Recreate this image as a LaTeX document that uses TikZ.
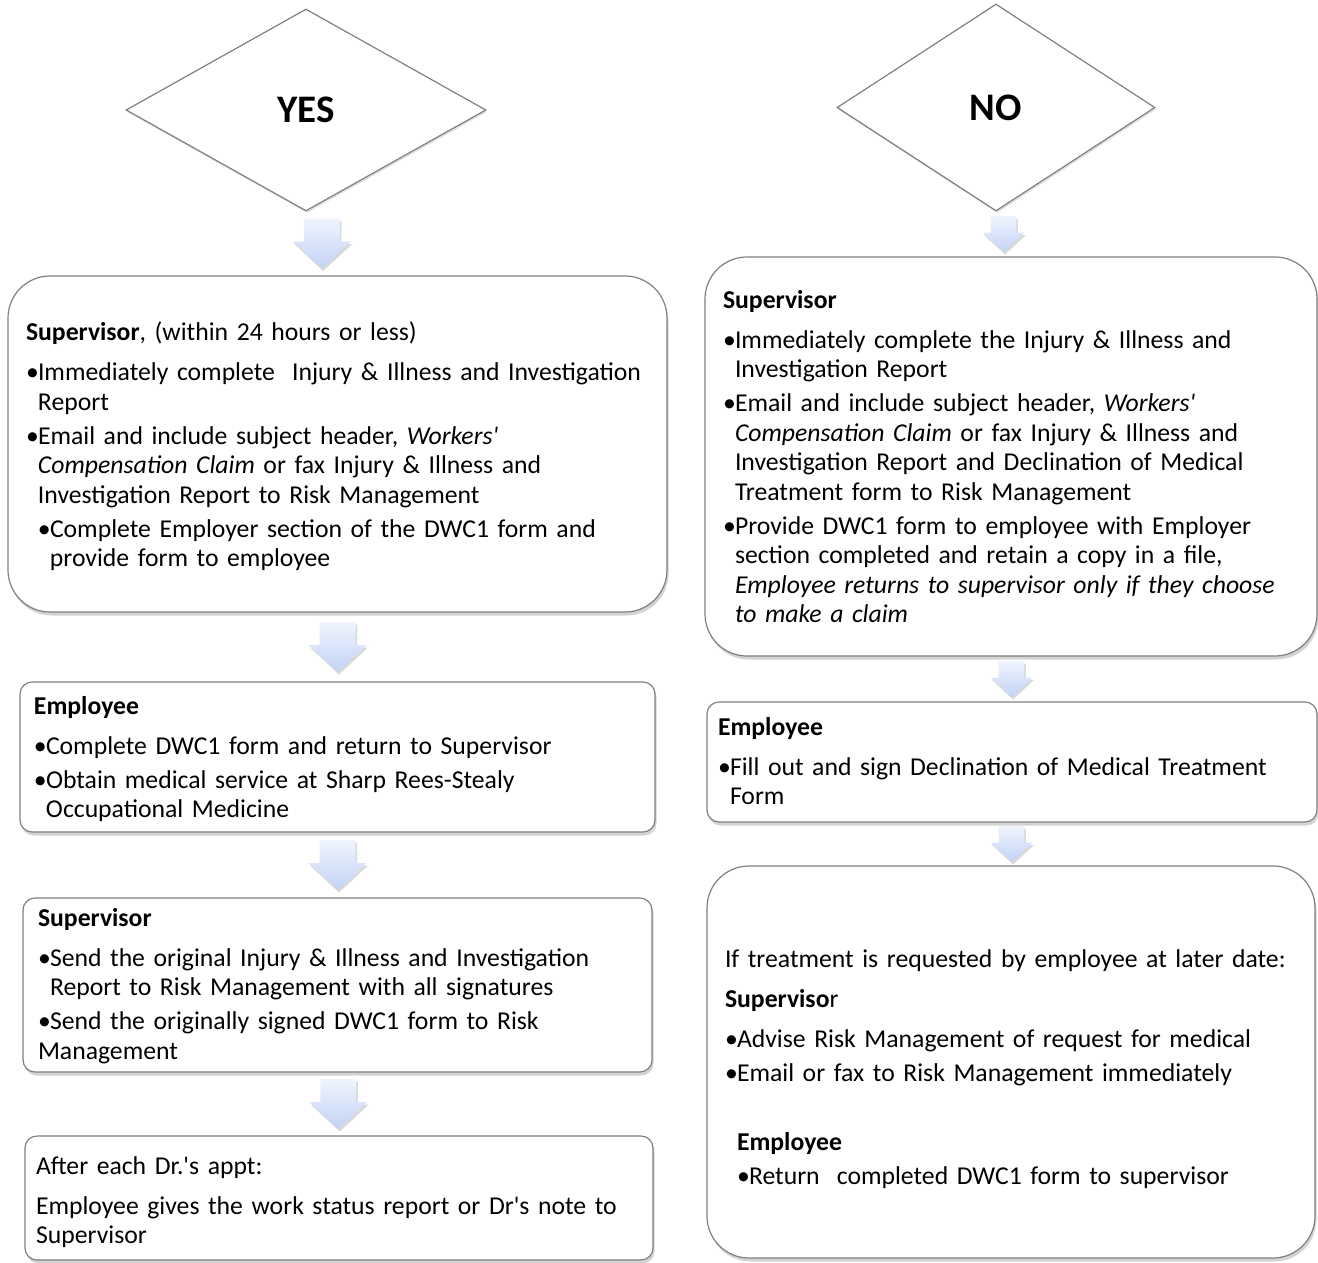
\documentclass[tikz,border=0pt]{standalone}
\usepackage{fontspec}
\setmainfont{Carlito}
\usepackage{xcolor}
\usetikzlibrary{shapes.geometric,shadows,calc}

\definecolor{edgegray}{RGB}{128,128,128}
\definecolor{arrtop}{RGB}{240,244,253}
\definecolor{arrbot}{RGB}{194,211,246}

% bullet paragraph with hanging indent (optional extra left indent)
\newcommand{\itm}[1][0pt]{\par\noindent\leftskip=#1\relax\hangindent=12pt\hangafter=1\makebox[12pt][l]{\textbullet}}
% heading line, followed by a little extra space
\newcommand{\hd}[1]{\par\noindent\leftskip=0pt\relax#1\par\vspace{6pt}}
% end the last paragraph, pad below (paired with a negative inner ysep to lift the text)
\newcommand{\fin}[1]{\par\vspace{#1}\hrule height0pt depth0pt\relax}
% light blue block arrow pointing down, centred on a coordinate
\newcommand{\flowarrow}[2][1]{%
  \path[flowfill, shift={(#2)}, scale=#1]
    (-18,-25) -- (18,-25) -- (18,-2) -- (29,-2) -- (0,25) -- (-29,-2) -- (-18,-2) -- cycle;}

\begin{document}
\begin{tikzpicture}[x=1pt, y=-1pt,
  txt/.style={font=\fontsize{25.7pt}{29.5pt}\selectfont, align=left,
              execute at begin node={\setlength{\parskip}{4.5pt}\setlength{\parindent}{0pt}}},
  box/.style={txt, rectangle, draw=edgegray, line width=1.2pt, fill=white, rounded corners=12pt,
              drop shadow={shadow xshift=1.5pt, shadow yshift=-3.5pt, opacity=0.35}},
  bigbox/.style={box, rounded corners=42pt},
  decision/.style={diamond, draw=edgegray, line width=1.2pt, fill=white, inner sep=0pt,
                   font=\fontsize{39pt}{40pt}\selectfont\bfseries,
                   drop shadow={shadow xshift=1pt, shadow yshift=-2pt, opacity=0.25}},
  flowfill/.style={top color=arrtop, bottom color=arrbot, draw=none,
                   drop shadow={shadow xshift=1.5pt, shadow yshift=-2.5pt, opacity=0.3}},
]
\useasboundingbox (0,0) rectangle (1318,1262);

% Decisions
\node[decision, minimum width=360pt, minimum height=202pt] (yes) at (306,110) {YES};
\node[decision, minimum width=318pt, minimum height=207pt] (no) at (996,107.5) {NO};

% Left column (YES)
\node[bigbox, inner xsep=18pt, inner ysep=-5pt, text width=623pt, minimum height=336pt] (l1) at (337.5,444) {%
\hd{\textbf{Supervisor}, (within 24 hours or less)}
\itm\mbox{Immediately complete\ \ Injury \& Illness and Investigation}\newline\mbox{Report}
\itm\mbox{Email and include subject header, \textit{Workers\textquotesingle}}\newline\mbox{\textit{Compensation Claim} or fax Injury \& Illness and}\newline\mbox{Investigation Report to Risk Management}
\itm[12pt]\mbox{Complete Employer section of the DWC1 form and}\newline\mbox{provide form to employee}\fin{10pt}};

\node[box, inner xsep=14pt, inner ysep=-6pt, text width=607pt, minimum height=150pt] (l2) at (337.5,757) {%
\hd{\textbf{Employee}}
\itm\mbox{Complete DWC1 form and return to Supervisor}
\itm\mbox{Obtain medical service at Sharp Rees-Stealy}\newline\mbox{Occupational Medicine}\fin{12pt}};

\node[box, inner xsep=15pt, inner ysep=-7pt, text width=599pt, minimum height=174pt] (l3) at (337.5,985) {%
\hd{\textbf{Supervisor}}
\itm\mbox{Send the original Injury \& Illness and Investigation}\newline\mbox{Report to Risk Management with all signatures}
\itm\mbox{Send the originally signed DWC1 form to Risk}\newline\hspace*{-12pt}\mbox{Management}\fin{14pt}};

\node[box, inner xsep=11pt, inner ysep=-4pt, text width=606pt, minimum height=124pt] (l4) at (339,1198) {%
\hd{After each Dr.\textquotesingle s appt:}
\noindent\mbox{Employee gives the work status report or Dr\textquotesingle s note to}\newline\mbox{Supervisor}\fin{8pt}};

% Right column (NO)
\node[bigbox, inner xsep=18pt, inner ysep=-8pt, text width=576pt, minimum height=399pt] (r1) at (1011,456.5) {%
\hd{\textbf{Supervisor}}
\itm\mbox{Immediately complete the Injury \& Illness and}\newline\mbox{Investigation Report}
\itm\mbox{Email and include subject header, \textit{Workers\textquotesingle}}\newline\mbox{\textit{Compensation Claim} or fax Injury \& Illness and}\newline\mbox{Investigation Report and Declination of Medical}\newline\mbox{Treatment form to Risk Management}
\itm\mbox{Provide DWC1 form to employee with Employer}\newline\mbox{section completed and retain a copy in a file,}\newline\mbox{\textit{Employee returns to supervisor only if they choose}}\newline\mbox{\textit{to make a claim}}\fin{16pt}};

\node[box, inner xsep=11pt, inner ysep=-9pt, text width=588pt, minimum height=120pt] (r2) at (1012,762) {%
\hd{\textbf{Employee}}
\itm\mbox{Fill out and sign Declination of Medical Treatment}\newline\mbox{Form}\fin{18pt}};

\node[bigbox, inner xsep=18pt, inner ysep=-1pt, text width=572pt, minimum height=392pt] (r3) at (1011,1062) {%
\hd{If treatment is requested by employee at later date:}
\hd{\textbf{Superviso}r}
\itm\mbox{Advise Risk Management of request for medical}
\itm\mbox{Email or fax to Risk Management immediately}
\par\vspace{35pt}\noindent\leftskip=0pt\hspace*{12pt}\textbf{Employee}
\itm[12pt]\mbox{Return\ \ completed DWC1 form to supervisor}\fin{2pt}};

% Flow arrows
\coordinate (a1) at ($(yes.south)!0.5!(l1.north)$);
\coordinate (a2) at ($(l1.south)!0.5!(l2.north)$);
\coordinate (a3) at ($(l2.south)!0.5!(l3.north)$);
\coordinate (a4) at ($(l3.south)!0.5!(l4.north)$);
\coordinate (b1) at ($(no.south)!0.5!(r1.north)$);
\coordinate (b2) at ($(r1.south)!0.5!(r2.north)$);
\coordinate (b3) at ($(r2.south)!0.5!(r3.north)$);
\flowarrow{a1}
\flowarrow{a2}
\flowarrow{a3}
\flowarrow{a4}
\flowarrow[0.72]{b1}
\flowarrow[0.72]{b2}
\flowarrow[0.72]{b3}
\end{tikzpicture}
\end{document}
